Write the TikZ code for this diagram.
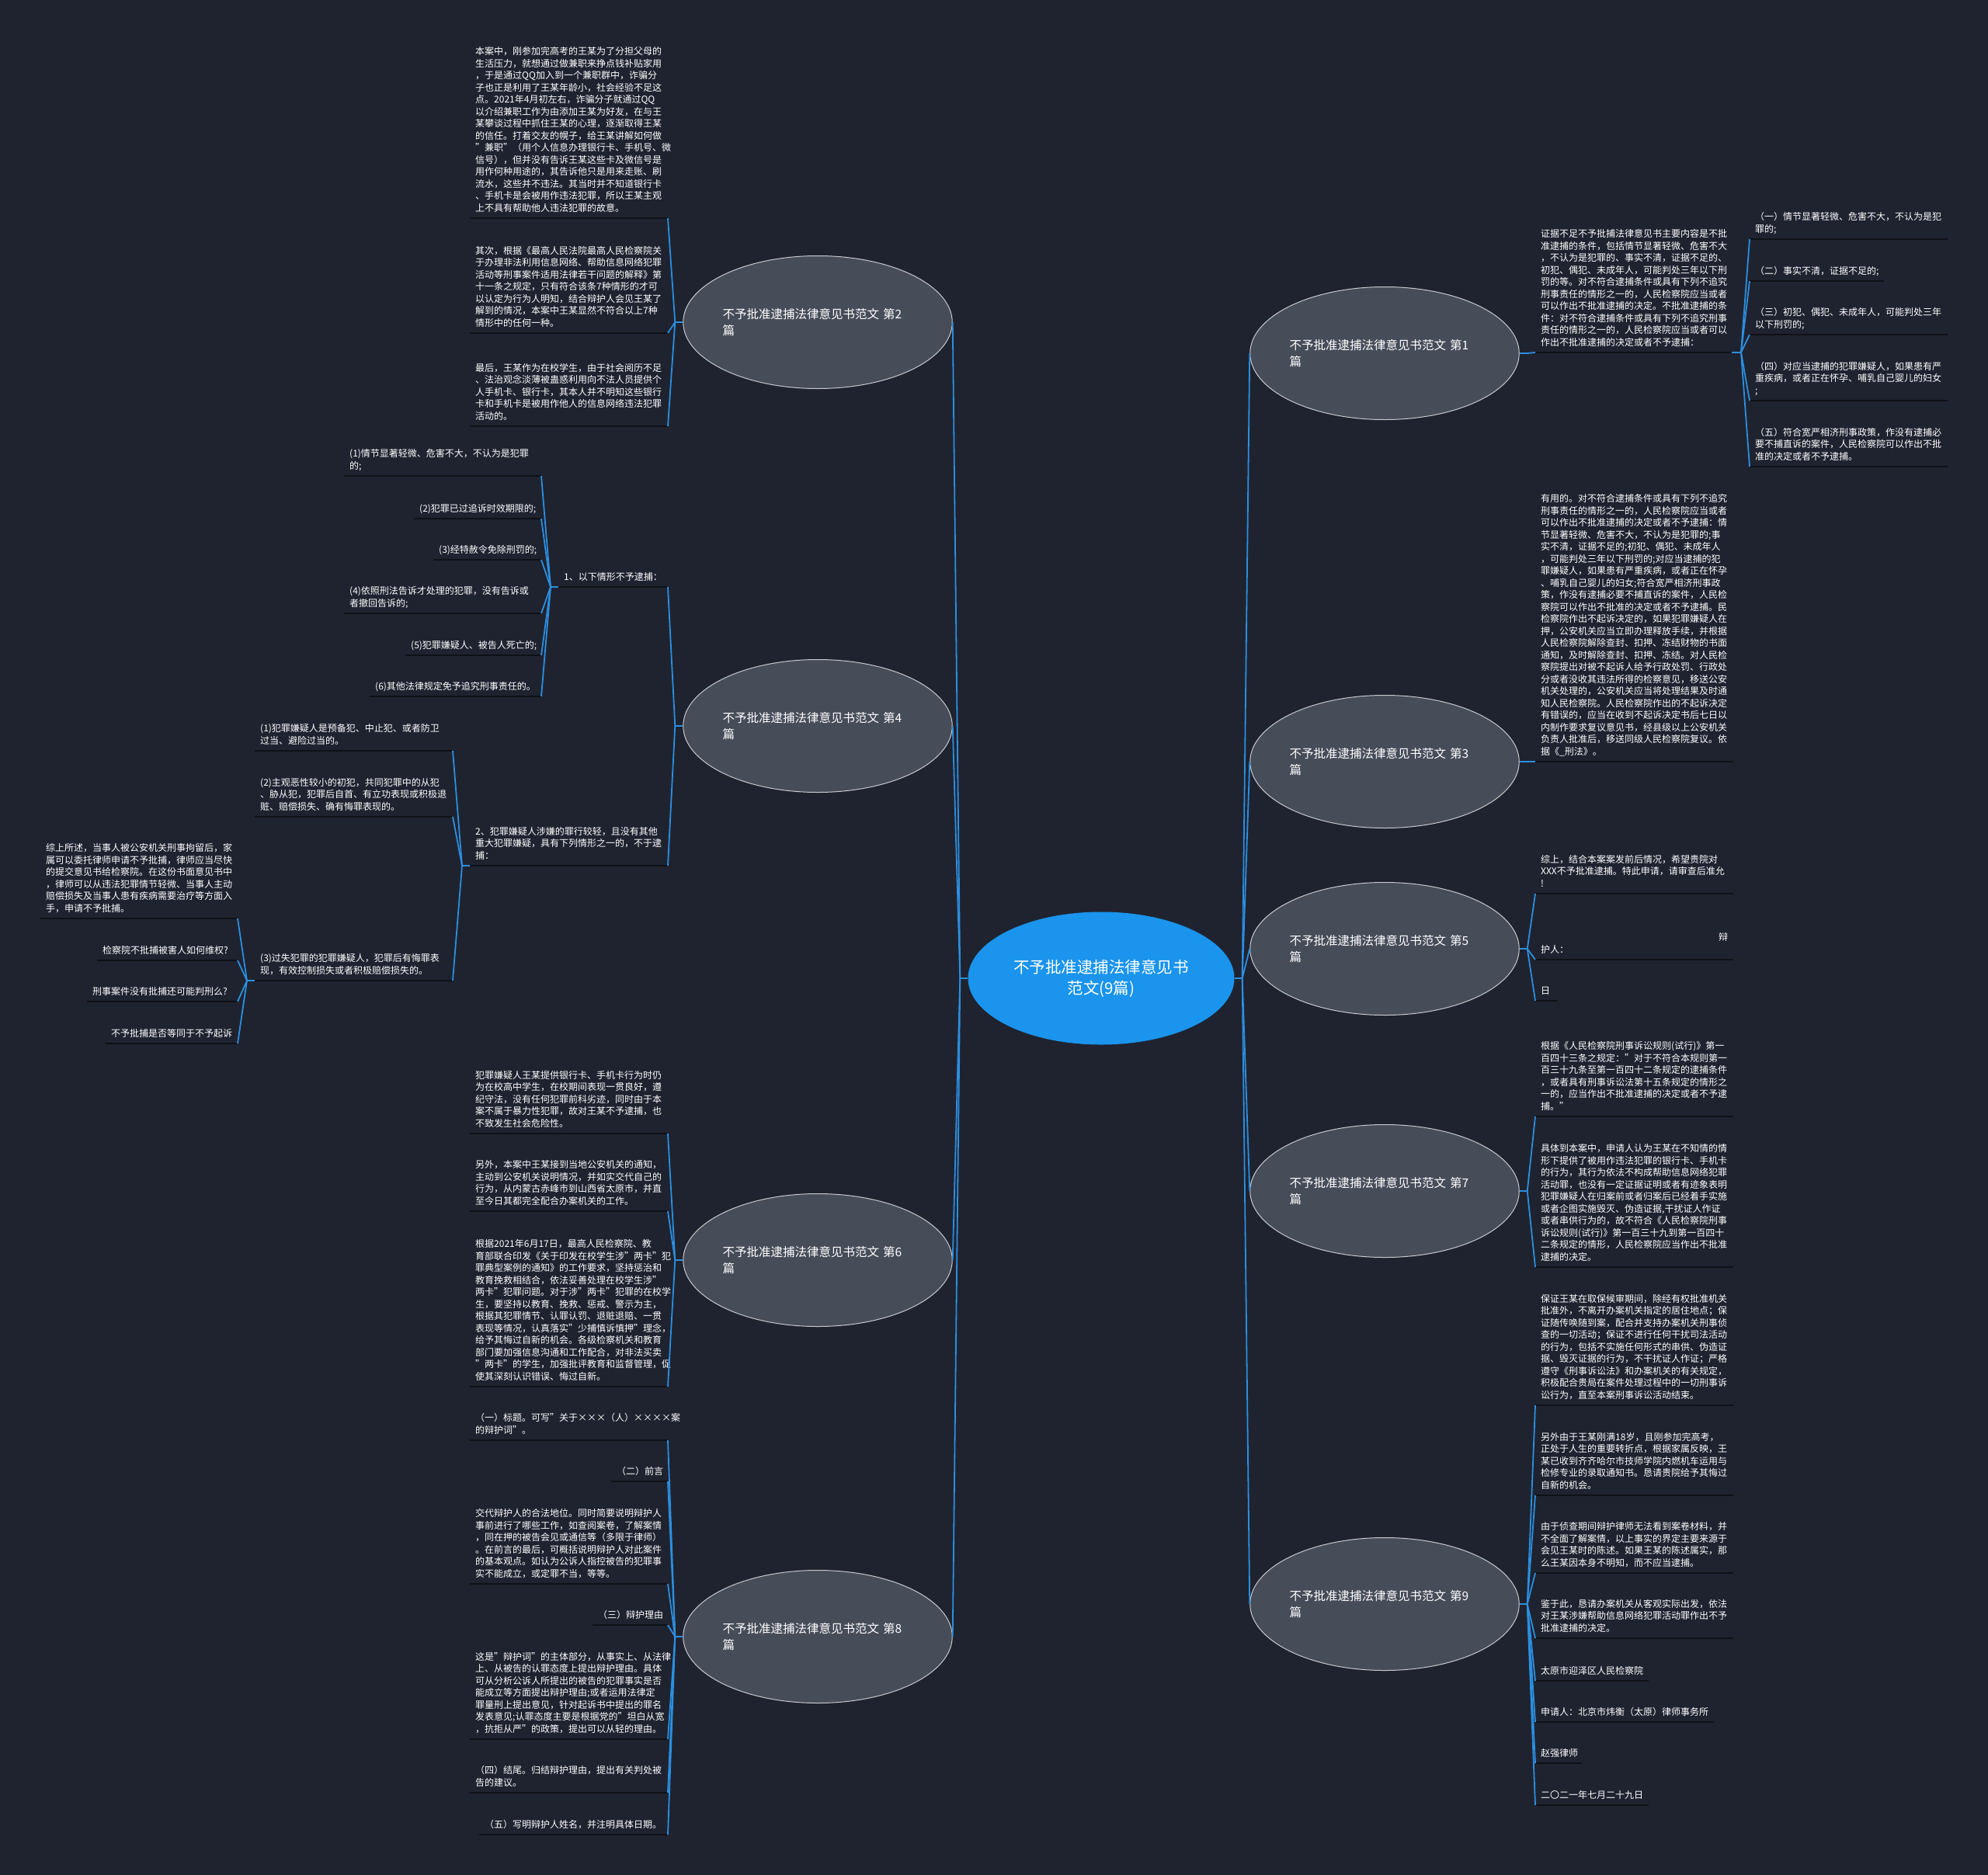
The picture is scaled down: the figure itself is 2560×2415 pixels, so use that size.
\documentclass[tikz,border=0pt]{standalone}
\usepackage{fontspec}
\setmainfont{Noto Sans CJK SC}
\usetikzlibrary{shapes.geometric}
\definecolor{bgc}{HTML}{1F2330}
\definecolor{nodec}{HTML}{474C59}
\definecolor{rootc}{HTML}{1A94EC}
\definecolor{linec}{HTML}{2B8FE0}
\definecolor{ulc}{HTML}{0F1116}
\tikzset{
  conn/.style={draw=linec, line width=1.8pt},
  uline/.style={draw=ulc, line width=2.6pt},
  topic/.style={ellipse, draw=white!70!nodec, line width=1pt, fill=nodec,
    minimum width=343pt, minimum height=171pt, inner sep=0pt, text=white,
    font=\fontsize{15.5}{21}\selectfont, align=left, text width=245pt},
  rootnode/.style={ellipse, fill=rootc, minimum width=343pt, minimum height=171pt,
    inner sep=0pt, text=white, font=\fontsize{20.5}{27}\selectfont, align=center},
  leaftext/.style={text=white, font=\fontsize{12}{15.5}\selectfont, align=left,
    inner sep=0pt, anchor=base west},
}
% #1 name, #2 xL, #3 xR, #4 underline y, #5 first line centre y (reference only), #6 text
% the base anchor of a multi-line node is the baseline of its last line
\newcommand{\mmleaf}[6]{%
  \node[leaftext] (#1) at ({#2+7},{#4-9}) {#6};
  \draw[uline] (#2,#4) coordinate (#1-L) -- (#3,#4) coordinate (#1-R);
}
\begin{document}
\begin{tikzpicture}[x=1pt,y=-1pt]
\fill[bgc] (0,0) rectangle (2560,2415);
\useasboundingbox (0,0) rectangle (2560,2415);

% root and topics
\node[rootnode] (R) at (1418,1260) {不予批准逮捕法律意见书\\范文(9篇)};
\node[topic] (T2) at (1053,415) {不予批准逮捕法律意见书范文 第2\\篇};
\node[topic] (T4) at (1053,935) {不予批准逮捕法律意见书范文 第4\\篇};
\node[topic] (T6) at (1053,1623) {不予批准逮捕法律意见书范文 第6\\篇};
\node[topic] (T8) at (1053,2108) {不予批准逮捕法律意见书范文 第8\\篇};
\node[topic] (T1) at (1783,455) {不予批准逮捕法律意见书范文 第1\\篇};
\node[topic] (T3) at (1783,981) {不予批准逮捕法律意见书范文 第3\\篇};
\node[topic] (T5) at (1783,1222) {不予批准逮捕法律意见书范文 第5\\篇};
\node[topic] (T7) at (1783,1534) {不予批准逮捕法律意见书范文 第7\\篇};
\node[topic] (T9) at (1783,2066) {不予批准逮捕法律意见书范文 第9\\篇};

% ---------- 第2 ----------
\mmleaf{a2a}{605}{860}{281}{66}{本案中，刚参加完高考的王某为了分担父母的\\
生活压力，就想通过做兼职来挣点钱补贴家用\\
，于是通过QQ加入到一个兼职群中，诈骗分\\
子也正是利用了王某年龄小，社会经验不足这\\
点。2021年4月初左右，诈骗分子就通过QQ\\
以介绍兼职工作为由添加王某为好友，在与王\\
某攀谈过程中抓住王某的心理，逐渐取得王某\\
的信任。打着交友的幌子，给王某讲解如何做\\
"兼职"（用个人信息办理银行卡、手机号、微\\
信号），但并没有告诉王某这些卡及微信号是\\
用作何种用途的，其告诉他只是用来走账、刷\\
流水，这些并不违法。其当时并不知道银行卡\\
、手机卡是会被用作违法犯罪，所以王某主观\\
上不具有帮助他人违法犯罪的故意。}
\mmleaf{a2b}{605}{860}{429}{323}{其次，根据《最高人民法院最高人民检察院关\\
于办理非法利用信息网络、帮助信息网络犯罪\\
活动等刑事案件适用法律若干问题的解释》第\\
十一条之规定，只有符合该条7种情形的才可\\
以认定为行为人明知，结合辩护人会见王某了\\
解到的情况，本案中王某显然不符合以上7种\\
情形中的任何一种。}
\mmleaf{a2c}{605}{860}{549}{468}{最后，王某作为在校学生，由于社会阅历不足\\
、法治观念淡薄被蛊惑利用向不法人员提供个\\
人手机卡、银行卡，其本人并不明知这些银行\\
卡和手机卡是被用作他人的信息网络违法犯罪\\
活动的。}

% ---------- 第4 ----------
\mmleaf{b1}{719}{860}{756}{742}{1、以下情形不予逮捕：}
\mmleaf{c1}{443}{697}{613}{585}{(1)情节显著轻微、危害不大，不认为是犯罪\\的;}
\mmleaf{c2}{533}{697}{668}{654}{(2)犯罪已过追诉时效期限的;}
\mmleaf{c3}{558}{697}{721}{708}{(3)经特赦令免除刑罚的;}
\mmleaf{c4}{443}{697}{790}{761}{(4)依照刑法告诉才处理的犯罪，没有告诉或\\者撤回告诉的;}
\mmleaf{c5}{522}{697}{844}{831}{(5)犯罪嫌疑人、被告人死亡的;}
\mmleaf{c6}{476}{697}{897}{883}{(6)其他法律规定免予追究刑事责任的。}
\mmleaf{b2}{605}{860}{1115}{1072}{2、犯罪嫌疑人涉嫌的罪行较轻，且没有其他\\
重大犯罪嫌疑，具有下列情形之一的，不于逮\\
捕：}
\mmleaf{d1}{328}{583}{967}{938}{(1)犯罪嫌疑人是预备犯、中止犯、或者防卫\\过当、避险过当的。}
\mmleaf{d2}{328}{583}{1052}{1007}{(2)主观恶性较小的初犯，共同犯罪中的从犯\\
、胁从犯，犯罪后自首、有立功表现或积极退\\
赃、赔偿损失、确有悔罪表现的。}
\mmleaf{d3}{328}{583}{1263}{1234}{(3)过失犯罪的犯罪嫌疑人，犯罪后有悔罪表\\现，有效控制损失或者积极赔偿损失的。}
\mmleaf{e1}{52}{306}{1183}{1093}{综上所述，当事人被公安机关刑事拘留后，家\\
属可以委托律师申请不予批捕，律师应当尽快\\
的提交意见书给检察院。在这份书面意见书中\\
，律师可以从违法犯罪情节轻微、当事人主动\\
赔偿损失及当事人患有疾病需要治疗等方面入\\
手，申请不予批捕。}
\mmleaf{e2}{125}{306}{1237}{1223}{检察院不批捕被害人如何维权?}
\mmleaf{e3}{112}{306}{1290}{1277}{刑事案件没有批捕还可能判刑么?}
\mmleaf{e4}{136}{306}{1344}{1330}{不予批捕是否等同于不予起诉}

% ---------- 第6 ----------
\mmleaf{f1}{605}{860}{1460}{1385}{犯罪嫌疑人王某提供银行卡、手机卡行为时仍\\
为在校高中学生，在校期间表现一贯良好，遵\\
纪守法，没有任何犯罪前科劣迹，同时由于本\\
案不属于暴力性犯罪，故对王某不予逮捕，也\\
不致发生社会危险性。}
\mmleaf{f2}{605}{860}{1560}{1500}{另外，本案中王某接到当地公安机关的通知，\\
主动到公安机关说明情况，并如实交代自己的\\
行为，从内蒙古赤峰市到山西省太原市，并直\\
至今日其都完全配合办案机关的工作。}
\mmleaf{f3}{605}{860}{1786}{1602}{根据2021年6月17日，最高人民检察院、教\\
育部联合印发《关于印发在校学生涉"两卡"犯\\
罪典型案例的通知》的工作要求，坚持惩治和\\
教育挽救相结合，依法妥善处理在校学生涉"\\
两卡"犯罪问题。对于涉"两卡"犯罪的在校学\\
生，要坚持以教育、挽救、惩戒、警示为主，\\
根据其犯罪情节、认罪认罚、退赃退赔、一贯\\
表现等情况，认真落实"少捕慎诉慎押"理念，\\
给予其悔过自新的机会。各级检察机关和教育\\
部门要加强信息沟通和工作配合，对非法买卖\\
"两卡"的学生，加强批评教育和监督管理，促\\
使其深刻认识错误、悔过自新。}

% ---------- 第8 ----------
\mmleaf{g1}{605}{860}{1855}{1826}{（一）标题。可写"关于×××（人）××××案\\的辩护词"。}
\mmleaf{g2}{787}{860}{1908}{1895}{（二）前言}
\mmleaf{g3}{605}{860}{2040}{1949}{交代辩护人的合法地位。同时简要说明辩护人\\
事前进行了哪些工作，如查阅案卷，了解案情\\
，同在押的被告会见或通信等（多限于律师）\\
。在前言的最后，可概括说明辩护人对此案件\\
的基本观点。如认为公诉人指控被告的犯罪事\\
实不能成立，或定罪不当，等等。}
\mmleaf{g4}{763}{860}{2093}{2080}{（三）辩护理由}
\mmleaf{g5}{605}{860}{2240}{2133}{这是"辩护词"的主体部分，从事实上、从法律\\
上、从被告的认罪态度上提出辩护理由。具体\\
可从分析公诉人所提出的被告的犯罪事实是否\\
能成立等方面提出辩护理由;或者运用法律定\\
罪量刑上提出意见，针对起诉书中提出的罪名\\
发表意见;认罪态度主要是根据党的"坦白从宽\\
，抗拒从严"的政策，提出可以从轻的理由。}
\mmleaf{g6}{605}{860}{2309}{2281}{（四）结尾。归结辩护理由，提出有关判处被\\告的建议。}
\mmleaf{g7}{617}{860}{2363}{2350}{（五）写明辩护人姓名，并注明具体日期。}

% ---------- 第1 ----------
\mmleaf{h}{1977}{2230}{454}{302}{证据不足不予批捕法律意见书主要内容是不批\\
准逮捕的条件，包括情节显著轻微、危害不大\\
，不认为是犯罪的、事实不清，证据不足的、\\
初犯、偶犯、未成年人，可能判处三年以下刑\\
罚的等。对不符合逮捕条件或具有下列不追究\\
刑事责任的情形之一的，人民检察院应当或者\\
可以作出不批准逮捕的决定。不批准逮捕的条\\
件：对不符合逮捕条件或具有下列不追究刑事\\
责任的情形之一的，人民检察院应当或者可以\\
作出不批准逮捕的决定或者不予逮捕：}
\mmleaf{h1}{2253}{2508}{308}{280}{（一）情节显著轻微、危害不大，不认为是犯\\罪的;}
\mmleaf{h2}{2253}{2426}{362}{349}{（二）事实不清，证据不足的;}
\mmleaf{h3}{2253}{2508}{431}{403}{（三）初犯、偶犯、未成年人，可能判处三年\\以下刑罚的;}
\mmleaf{h4}{2253}{2508}{516}{472}{（四）对应当逮捕的犯罪嫌疑人，如果患有严\\
重疾病，或者正在怀孕、哺乳自己婴儿的妇女\\
;}
\mmleaf{h5}{2253}{2508}{601}{557}{（五）符合宽严相济刑事政策，作没有逮捕必\\
要不捕直诉的案件，人民检察院可以作出不批\\
准的决定或者不予逮捕。}

% ---------- 第3 ----------
\mmleaf{i}{1977}{2232}{981}{642}{有用的。对不符合逮捕条件或具有下列不追究\\
刑事责任的情形之一的，人民检察院应当或者\\
可以作出不批准逮捕的决定或者不予逮捕：情\\
节显著轻微、危害不大，不认为是犯罪的;事\\
实不清，证据不足的;初犯、偶犯、未成年人\\
，可能判处三年以下刑罚的;对应当逮捕的犯\\
罪嫌疑人，如果患有严重疾病，或者正在怀孕\\
、哺乳自己婴儿的妇女;符合宽严相济刑事政\\
策，作没有逮捕必要不捕直诉的案件，人民检\\
察院可以作出不批准的决定或者不予逮捕。民\\
检察院作出不起诉决定的，如果犯罪嫌疑人在\\
押，公安机关应当立即办理释放手续，并根据\\
人民检察院解除查封、扣押、冻结财物的书面\\
通知，及时解除查封、扣押、冻结。对人民检\\
察院提出对被不起诉人给予行政处罚、行政处\\
分或者没收其违法所得的检察意见，移送公安\\
机关处理的，公安机关应当将处理结果及时通\\
知人民检察院。人民检察院作出的不起诉决定\\
有错误的，应当在收到不起诉决定书后七日以\\
内制作要求复议意见书，经县级以上公安机关\\
负责人批准后，移送同级人民检察院复议。依\\
据《\_刑法》。}

% ---------- 第5 ----------
\mmleaf{j1}{1977}{2232}{1151}{1108}{综上，结合本案案发前后情况，希望贵院对\\
XXX不予批准逮捕。特此申请，请审查后准允\\
!}
\mmleaf{j2}{1977}{2232}{1236}{1208}{\makebox[241pt][r]{辩}\\护人：}
\mmleaf{j3}{1977}{2005}{1289}{1277}{日}

% ---------- 第7 ----------
\mmleaf{k1}{1977}{2232}{1438}{1348}{根据《人民检察院刑事诉讼规则(试行)》第一\\
百四十三条之规定："对于不符合本规则第一\\
百三十九条至第一百四十二条规定的逮捕条件\\
，或者具有刑事诉讼法第十五条规定的情形之\\
一的，应当作出不批准逮捕的决定或者不予逮\\
捕。"}
\mmleaf{k2}{1977}{2232}{1632}{1480}{具体到本案中，申请人认为王某在不知情的情\\
形下提供了被用作违法犯罪的银行卡、手机卡\\
的行为，其行为依法不构成帮助信息网络犯罪\\
活动罪，也没有一定证据证明或者有迹象表明\\
犯罪嫌疑人在归案前或者归案后已经着手实施\\
或者企图实施毁灭、伪造证据,干扰证人作证\\
或者串供行为的，故不符合《人民检察院刑事\\
诉讼规则(试行)》第一百三十九到第一百四十\\
二条规定的情形，人民检察院应当作出不批准\\
逮捕的决定。}

% ---------- 第9 ----------
\mmleaf{l1}{1977}{2232}{1810}{1673}{保证王某在取保候审期间，除经有权批准机关\\
批准外，不离开办案机关指定的居住地点；保\\
证随传唤随到案，配合并支持办案机关刑事侦\\
查的一切活动；保证不进行任何干扰司法活动\\
的行为，包括不实施任何形式的串供、伪造证\\
据、毁灭证据的行为，不干扰证人作证；严格\\
遵守《刑事诉讼法》和办案机关的有关规定，\\
积极配合贵局在案件处理过程中的一切刑事诉\\
讼行为，直至本案刑事诉讼活动结束。}
\mmleaf{l2}{1977}{2232}{1926}{1851}{另外由于王某刚满18岁，且刚参加完高考，\\
正处于人生的重要转折点，根据家属反映，王\\
某已收到齐齐哈尔市技师学院内燃机车运用与\\
检修专业的录取通知书。恳请贵院给予其悔过\\
自新的机会。}
\mmleaf{l3}{1977}{2232}{2026}{1966}{由于侦查期间辩护律师无法看到案卷材料，并\\
不全面了解案情，以上事实的界定主要来源于\\
会见王某时的陈述。如果王某的陈述属实，那\\
么王某因本身不明知，而不应当逮捕。}
\mmleaf{l4}{1977}{2232}{2110}{2066}{鉴于此，恳请办案机关从客观实际出发，依法\\
对王某涉嫌帮助信息网络犯罪活动罪作出不予\\
批准逮捕的决定。}
\mmleaf{l5}{1977}{2123}{2165}{2151}{太原市迎泽区人民检察院}
\mmleaf{l6}{1977}{2207}{2218}{2205}{申请人：北京市炜衡（太原）律师事务所}
\mmleaf{l7}{1977}{2037}{2271}{2258}{赵强律师}
\mmleaf{l8}{1977}{2123}{2325}{2312}{二〇二一年七月二十九日}

% ---------- connectors ----------
\draw[conn] (R.west) -- ++(-10,0) coordinate (RL);
\draw[conn] (R.east) -- ++(10,0) coordinate (RR);
\foreach \x in {T2,T4,T6,T8} \draw[conn] (RL) -- (\x.east);
\foreach \x in {T1,T3,T5,T7,T9} \draw[conn] (RR) -- (\x.west);

\draw[conn] (T2.west) -- ++(-10,0) coordinate (T2s);
\foreach \x in {a2a,a2b,a2c} \draw[conn] (T2s) -- (\x-R);
\draw[conn] (T4.west) -- ++(-10,0) coordinate (T4s);
\foreach \x in {b1,b2} \draw[conn] (T4s) -- (\x-R);
\draw[conn] (b1-L) -- ++(-10,0) coordinate (b1s);
\foreach \x in {c1,c2,c3,c4,c5,c6} \draw[conn] (b1s) -- (\x-R);
\draw[conn] (b2-L) -- ++(-10,0) coordinate (b2s);
\foreach \x in {d1,d2,d3} \draw[conn] (b2s) -- (\x-R);
\draw[conn] (d3-L) -- ++(-10,0) coordinate (d3s);
\foreach \x in {e1,e2,e3,e4} \draw[conn] (d3s) -- (\x-R);
\draw[conn] (T6.west) -- ++(-10,0) coordinate (T6s);
\foreach \x in {f1,f2,f3} \draw[conn] (T6s) -- (\x-R);
\draw[conn] (T8.west) -- ++(-10,0) coordinate (T8s);
\foreach \x in {g1,g2,g3,g4,g5,g6,g7} \draw[conn] (T8s) -- (\x-R);

\draw[conn] (T1.east) -- ++(10,0) coordinate (T1s);
\draw[conn] (T1s) -- (h-L);
\draw[conn] (h-R) -- ++(12,0) coordinate (hs);
\foreach \x in {h1,h2,h3,h4,h5} \draw[conn] (hs) -- (\x-L);
\draw[conn] (T3.east) -- ++(10,0) coordinate (T3s);
\draw[conn] (T3s) -- (i-L);
\draw[conn] (T5.east) -- ++(10,0) coordinate (T5s);
\foreach \x in {j1,j2,j3} \draw[conn] (T5s) -- (\x-L);
\draw[conn] (T7.east) -- ++(10,0) coordinate (T7s);
\foreach \x in {k1,k2} \draw[conn] (T7s) -- (\x-L);
\draw[conn] (T9.east) -- ++(10,0) coordinate (T9s);
\foreach \x in {l1,l2,l3,l4,l5,l6,l7,l8} \draw[conn] (T9s) -- (\x-L);
\end{tikzpicture}
\end{document}
